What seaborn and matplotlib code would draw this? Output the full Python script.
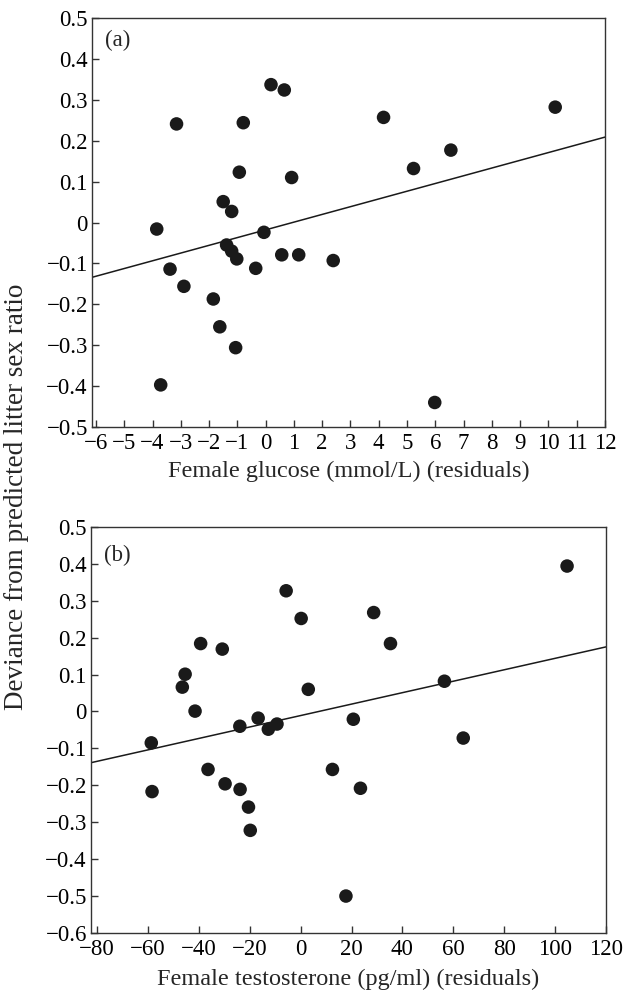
import matplotlib
matplotlib.use("Agg")
import matplotlib.pyplot as plt
import numpy as np
import pandas as pd
import seaborn as sns
from matplotlib.ticker import FuncFormatter, MultipleLocator

# panel (a): female glucose residuals vs deviance in litter sex ratio
glucose_x = [-3.85, -3.15, 0.19, 0.66, -0.79, -0.93, 0.92, -1.50, -1.20, -0.06,
             -1.38, -1.20, -1.02, -0.35, 0.57, 1.17, 2.39, -3.38, -2.89, -1.85,
             -1.62, -1.06, -3.71, 4.17, 10.24, 5.23, 6.55, 5.98]
glucose_y = [-0.016, 0.241, 0.337, 0.324, 0.244, 0.123, 0.110, 0.051, 0.027, -0.024,
             -0.055, -0.070, -0.089, -0.112, -0.079, -0.079, -0.093, -0.114, -0.156, -0.187,
             -0.255, -0.306, -0.397, 0.257, 0.282, 0.132, 0.177, -0.440]
glucose_fit = (-0.018, 0.0189)  # intercept, slope

# panel (b): female testosterone residuals
testo_x = [-39.3, -30.8, -45.4, -46.5, -41.5, -5.7, 0.2, 3.0, -23.9, -16.7,
           -12.7, -9.3, 20.7, 104.7, 28.7, 35.3, 56.5, -58.7, -58.4, -36.4,
           -29.7, -23.8, -20.5, -19.8, 12.5, 17.8, 63.9, 23.5]
testo_y = [0.184, 0.169, 0.101, 0.066, 0.001, 0.327, 0.252, 0.060, -0.040, -0.018,
           -0.048, -0.034, -0.021, 0.394, 0.268, 0.184, 0.082, -0.085, -0.217, -0.157,
           -0.196, -0.211, -0.259, -0.322, -0.157, -0.500, -0.072, -0.208]
testo_fit = (-0.011, 0.00155)

panels = [
    dict(x=glucose_x, y=glucose_y, fit=glucose_fit, tag="(a)",
         xlabel="Female glucose (mmol/L) (residuals)",
         xlim=(-6.14, 12), xstep=1, ylim=(-0.5, 0.5), tag_y=0.945,
         rect=[0.1467, 0.5704, 0.8182, 0.4115], labelpad=5),
    dict(x=testo_x, y=testo_y, fit=testo_fit, tag="(b)",
         xlabel="Female testosterone (pg/ml) (residuals)",
         xlim=(-82.4, 120), xstep=20, ylim=(-0.6, 0.5), tag_y=0.93,
         rect=[0.1451, 0.0614, 0.8214, 0.4085], labelpad=7),
]


def fmt_y(v, _):
    if abs(v) < 1e-9:
        return "0"
    return f"{v:.1f}".replace("-", "\u2212")


def fmt_x(v, _):
    return f"{v:.0f}".replace("-", "\u2212")


sns.set_theme(style="ticks")
plt.rcParams["font.family"] = ["Liberation Serif", "DejaVu Serif"]
plt.rcParams.update({
    "font.size": 15,
    "axes.linewidth": 1.0,
    "axes.edgecolor": "#333333",
    "xtick.direction": "in",
    "ytick.direction": "in",
    "xtick.major.size": 5,
    "ytick.major.size": 5,
    "xtick.major.width": 1.0,
    "ytick.major.width": 1.0,
    "xtick.color": "#333333",
    "ytick.color": "#333333",
    "xtick.labelcolor": "black",
    "ytick.labelcolor": "black",
    "xtick.major.pad": 4,
    "ytick.major.pad": 3,
})

fig = plt.figure(figsize=(6.27, 9.94), dpi=100)

for p in panels:
    ax = fig.add_axes(p["rect"])
    df = pd.DataFrame({"x": p["x"], "y": p["y"]})
    sns.scatterplot(data=df, x="x", y="y", ax=ax, color="#1a1a1a",
                    s=95, edgecolor="none", zorder=3)
    b0, b1 = p["fit"]
    ax.axline((0, b0), slope=b1, color="#1a1a1a", linewidth=1.1, zorder=2)
    ax.set_xlim(*p["xlim"])
    ax.set_ylim(*p["ylim"])
    ax.xaxis.set_major_locator(MultipleLocator(p["xstep"]))
    ax.yaxis.set_major_locator(MultipleLocator(0.1))
    ax.xaxis.set_major_formatter(FuncFormatter(fmt_x))
    ax.yaxis.set_major_formatter(FuncFormatter(fmt_y))
    ax.tick_params(labelsize=16.5)
    ax.set_xlabel(p["xlabel"], fontsize=17.5, labelpad=p["labelpad"])
    ax.set_ylabel("")
    ax.text(0.025, p["tag_y"], p["tag"], transform=ax.transAxes,
            ha="left", va="center", fontsize=16.5)

fig.text(0.026, 0.50, "Deviance from predicted litter sex ratio", rotation=90,
         ha="center", va="center", fontsize=19.5)

fig.savefig("out.png", dpi=100)
